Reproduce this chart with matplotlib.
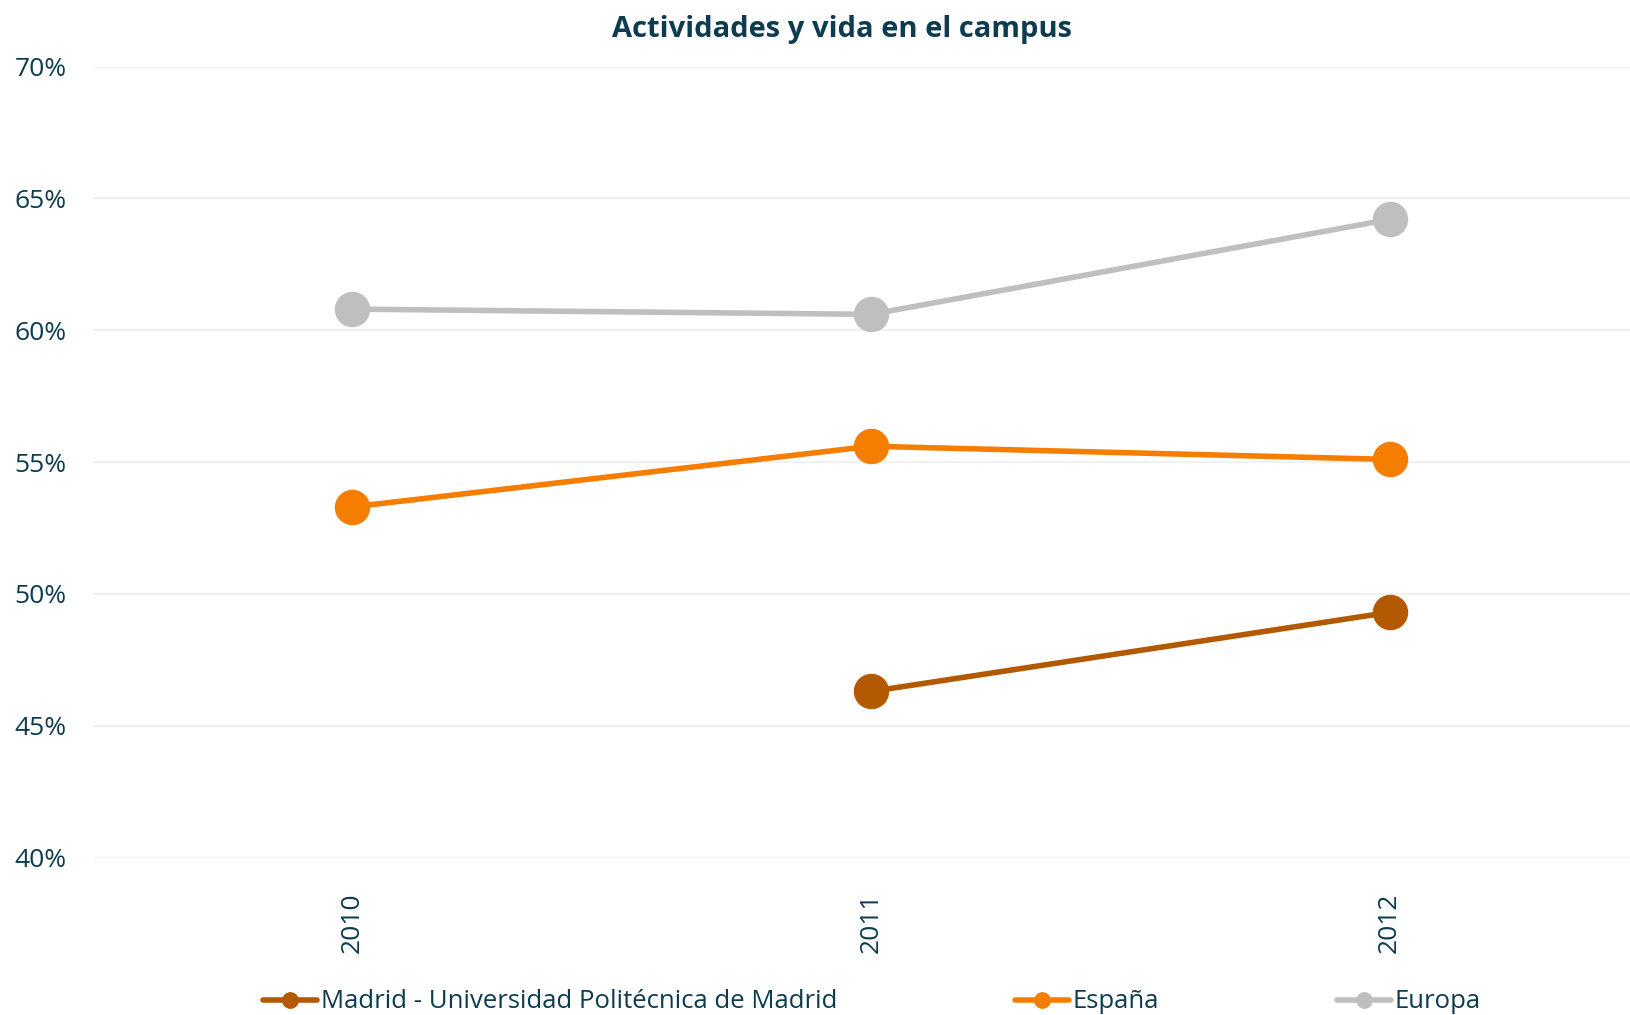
import matplotlib
matplotlib.use("Agg")
import matplotlib.pyplot as plt
import numpy as np

plt.rcParams['font.family'] = ['Open Sans', 'DejaVu Sans']

years = ["2010", "2011", "2012"]
madrid = [np.nan, 46.3, 49.3]
espana = [53.3, 55.6, 55.1]
europa = [60.8, 60.6, 64.2]

txt = "#0d3b4f"
series = [
    ("Madrid - Universidad Politécnica de Madrid", madrid, "#b35a00"),
    ("España", espana, "#f57d00"),
    ("Europa", europa, "#bfbfbf"),
]

fig = plt.figure(figsize=(16.30, 10.15), dpi=100)
ax = fig.add_axes([93/1630, 1 - 857.6/1015, (1630-93)/1630, (857.6-66.5)/1015])

x = np.arange(len(years))
for name, vals, col in series:
    ax.plot(x, vals, color=col, lw=4, marker="o", markersize=24.5, label=name,
            solid_capstyle="round", zorder=3)

ax.set_ylim(40, 70)
ax.set_yticks(np.arange(40, 71, 5))
ax.set_yticklabels([f"{v}%" for v in range(40, 71, 5)])
ax.set_xlim(-0.5, (1630-93)/518.6 - 0.5)
ax.set_xticks(x)
ax.set_xticklabels(years, rotation=90)
ax.grid(axis="y", color="#efefef", lw=1.2)
ax.set_axisbelow(True)
for s in ax.spines.values():
    s.set_visible(False)
ax.tick_params(axis="both", length=0, colors=txt, labelsize=19)
ax.tick_params(axis="y", pad=19)
ax.tick_params(axis="x", pad=25)

fig.text(842/1630, 1 - 30/1015, "Actividades y vida en el campus", ha="center", va="center",
         fontsize=21, fontweight="bold", color=txt)

handles, labels = ax.get_legend_handles_labels()
leg = fig.legend(handles, labels, loc="center", bbox_to_anchor=(872/1630, 1 - 1002/1015), ncol=3,
                 frameon=False, fontsize=18.5, markerscale=0.45, handlelength=2.1,
                 handletextpad=0.15, columnspacing=6.9, labelcolor=txt)

fig.savefig("out.png", dpi=100)
